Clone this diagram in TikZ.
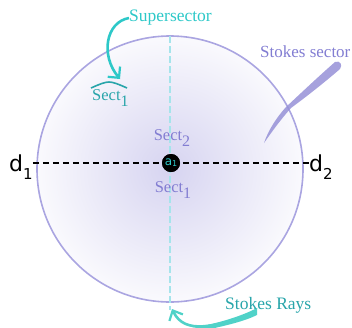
\documentclass[tikz,border=0pt]{standalone}
\usepackage{fontspec}
\setmainfont{Liberation Serif}
\newfontfamily\dfont{DejaVu Sans}
\usetikzlibrary{arrows.meta, positioning, calc}
\definecolor{ring}{RGB}{170,165,225}
\definecolor{sectblue}{RGB}{130,125,210}
\definecolor{supcyan}{RGB}{45,200,200}
\definecolor{rayteal}{RGB}{40,165,170}
\definecolor{rayarrow}{RGB}{80,210,200}
\definecolor{axiscyan}{RGB}{165,228,235}
\definecolor{swoosh}{RGB}{150,145,215}

\newcommand{\dlab}[1]{d\raisebox{-8pt}{\fontsize{15}{17}\selectfont #1}}
\newcommand{\sectlab}[1]{Sect\raisebox{-6pt}{\fontsize{16}{18}\selectfont #1}}

\begin{document}
\begin{tikzpicture}[x=1pt,y=-1pt,
    sectlabel/.style={sectblue, font=\fontsize{16.5}{18}\selectfont, inner sep=0pt},
    dlabel/.style={font=\dfont\fontsize{22}{24}\selectfont, inner sep=0pt, anchor=base west},
    callout/.style={font=\fontsize{17.5}{19}\selectfont, inner sep=0pt, anchor=west}]
    \useasboundingbox (0,0) rectangle (352,327);
    % Disc
    \shade[inner color=ring!48, outer color=ring!6] (170,169) circle (133pt);
    \draw[ring, line width=1.6pt] (170,169) circle (133pt);

    % Vertical axis
    \coordinate (top) at (170,36);
    \coordinate (bot) at (170,310);
    \draw[axiscyan, line width=1.2pt, dash pattern=on 7pt off 3pt] (top) -- (bot);

    % Labels d1, d2 and the centre
    \node[dlabel] (d1) at (9,171) {\dlab{1}};
    \node[dlabel] (d2) at (309,171) {\dlab{2}};
    \node[circle, fill=black, minimum size=18pt, inner sep=0pt] (a1) at (171,163) {};
    \draw[black, line width=1.3pt, dash pattern=on 6pt off 4pt]
        (d1.east |- a1) -- (d2.west |- a1);
    \node[circle, fill=black, minimum size=18pt, inner sep=0pt, text=supcyan,
          font=\dfont\fontsize{12}{13}\selectfont] at (a1) {a\raisebox{-1pt}{\fontsize{8}{9}\selectfont 1}};

    % Sectors
    \node[sectlabel] (s2) at (172,138) {\sectlab{2}};
    \node[sectlabel] (s1) at (173,190) {\sectlab{1}};

    % Supersector
    \node[callout, supcyan] (super) at (129,18) {Supersector};
    \node[sectlabel, rayteal, anchor=north west] (hat) at (92,89) {\sectlab{1}};
    \draw[rayteal, line width=1.6pt] (91,88) .. controls (100,84) and (105,82) .. (109,82)
        .. controls (113,82) and (118,84) .. (127,88);
    \draw[supcyan, line width=2.6pt, -{Straight Barb[length=8pt,width=16pt,line width=2.2pt]}]
        (super.west) .. controls (106,22) and (100,55) .. (120,79);

    % Stokes sector
    \node[callout, sectblue, font=\fontsize{17}{19}\selectfont] (ssec) at (260,52) {Stokes sector};
    \fill[swoosh, opacity=0.85] (335,62) .. controls (340,60) and (343,65) .. (340,69)
        .. controls (325,82) and (306,97) .. (291,108)
        .. controls (282,118) and (273,130) .. (264,143)
        .. controls (268,131) and (276,118) .. (286,107)
        .. controls (301,93) and (319,76) .. (335,62) -- cycle;

    % Stokes rays
    \node[callout, rayteal] (rays) at (225,305) {Stokes Rays};
    \fill[rayarrow] (257,308) .. controls (240,317) and (215,324) .. (192,328)
        -- (205,330) .. controls (225,326) and (245,321) .. (257,315) -- cycle;
    \draw[rayarrow, line width=2.6pt, -{Straight Barb[length=8pt,width=15pt,line width=2.2pt]}]
        (250,316) .. controls (215,325) and (185,336) .. (172,309);
\end{tikzpicture}
\end{document}
